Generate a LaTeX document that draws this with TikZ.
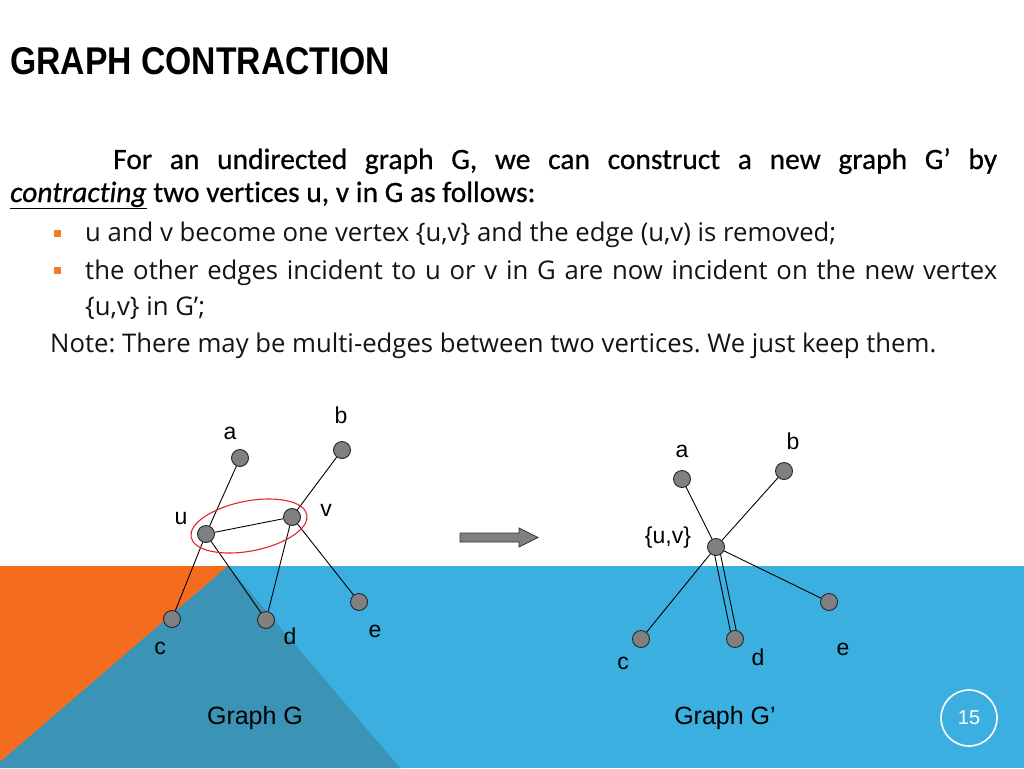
\documentclass[tikz,border=0pt]{standalone}
\usepackage{fontspec}
\usepackage{graphicx}
\newfontfamily\carl[Ligatures=NoCommon, FakeBold=0.6]{Carlito}
\newfontfamily\osans{Open Sans}
\newfontfamily\arialf{Liberation Sans}
\frenchspacing
\definecolor{lblue}{RGB}{59,175,223}
\definecolor{dblue}{RGB}{59,147,182}
\definecolor{orng}{RGB}{244,108,30}
\definecolor{bulorange}{RGB}{243,122,45}
\definecolor{vgray}{RGB}{128,128,128}
\definecolor{ered}{RGB}{222,40,50}
\pgfdeclarelayer{bg}
\pgfdeclarelayer{edges}
\pgfsetlayers{bg,edges,main}
\tikzset{
  vtx/.style={circle, fill=vgray, draw=black!85, line width=0.9pt, minimum size=17pt, inner sep=0pt},
  lbl/.style={font=\arialf\fontsize{23}{26}\selectfont, inner sep=0pt},
  captxt/.style={font=\arialf\fontsize{25}{28}\selectfont, inner sep=0pt},
  edg/.style={draw=black, line width=0.9pt},
  bodyC/.style={anchor=base west, inner sep=0pt, font=\carl\fontsize{29.5}{33}\selectfont},
  bodyO/.style={anchor=base west, inner sep=0pt, font=\osans\fontsize{25.7}{30}\selectfont\frenchspacing, text=black!92},
  bul/.style={fill=bulorange, minimum size=7pt, inner sep=0pt},
}
\begin{document}
\begin{tikzpicture}[x=1pt,y=-1pt]
\useasboundingbox (0,0) rectangle (1024,768);
\begin{pgfonlayer}{bg}
  \fill[white] (0,0) rectangle (1024,768);
  \fill[lblue] (0,566) rectangle (1024,768);
  \fill[orng] (0,566) -- (228,566) -- (0,762) -- cycle;
  \fill[dblue] (228,566) -- (400,768) -- (0,768) -- (0,762) -- cycle;
\end{pgfonlayer}

% title
\node[anchor=south west, inner sep=0pt] (title) at (10,75) {\resizebox{380pt}{27pt}{\arialf\bfseries GRAPH CONTRACTION}};

% body text
\node[bodyC] (l1) at (113,169) {\makebox[884pt][s]{For an undirected graph G, we can construct a new graph G’ by}};
\node[bodyC] (l2) at (10,202) {\underline{\textit{contracting}} two vertices u, v in G as follows:};
\node[bul] (b1) at (57,233) {};
\node[bodyO] (l3) at (85,241) {u and v become one vertex \{u,v\} and the edge (u,v) is removed;};
\node[bul] (b2) at (57,270) {};
\node[bodyO] (l4) at (85,279) {\makebox[912pt][s]{the other edges incident to u or v in G are now incident on the new vertex}};
\node[bodyO] (l5) at (85,315) {\{u,v\} in G’;};
\node[bodyO] (l6) at (50,352) {Note: There may be multi-edges between two vertices. We just keep them.};

% graph G
\node[vtx] (a) at (240,458) {};
\node[vtx] (b) at (342,450) {};
\node[vtx] (u) at (206,534) {};
\node[vtx] (v) at (292,517) {};
\node[vtx] (c) at (172,619) {};
\node[vtx] (d) at (266,620) {};
\node[vtx] (e) at (359,602) {};
\node[lbl] (la) at (230,433) {a};
\node[lbl] (lb) at (341,415) {b};
\node[lbl] (lu) at (181,519) {u};
\node[lbl] (lv) at (326,510) {v};
\node[lbl] (lc) at (160,648) {c};
\node[lbl] (ld) at (290,636) {d};
\node[lbl] (le) at (375,631) {e};
\begin{pgfonlayer}{edges}
  \draw[edg] (a) -- (u);
  \draw[edg] (b) -- (v);
  \draw[edg] (u) -- (v);
  \draw[edg] (u) -- (c);
  \draw[edg] (u) -- (d);
  \draw[edg] (v) -- (d);
  \draw[edg] (v) -- (e);
\end{pgfonlayer}
\draw[ered, line width=1.1pt, rotate around={11:(249,526)}] (249,526) ellipse [x radius=59, y radius=25];
\node[captxt] (capG) at (255,718) {Graph G};

% arrow
\filldraw[fill=vgray, draw=black!80, line width=0.8pt]
  (460,533) -- (519,533) -- (519,528) -- (538,537.5) -- (519,547) -- (519,542) -- (460,542) -- cycle;

% graph G'
\node[vtx] (a2) at (682,479) {};
\node[vtx] (b2v) at (784,471) {};
\node[vtx] (uv) at (716,547) {};
\node[vtx] (c2) at (641,639) {};
\node[vtx] (d2) at (735,639) {};
\node[vtx] (e2) at (829,602) {};
\node[lbl] (la2) at (682,451) {a};
\node[lbl] (lb2) at (793,441) {b};
\node[lbl] (luv) at (668,538) {\{u,v\}};
\node[lbl] (lc2) at (623,663) {c};
\node[lbl] (ld2) at (758,657) {d};
\node[lbl] (le2) at (843,649) {e};
\begin{pgfonlayer}{edges}
  \draw[edg] (a2) -- (uv);
  \draw[edg] (b2v) -- (uv);
  \draw[edg] (c2) -- (uv);
  \draw[edg] (e2) -- (uv);
  \draw[edg] ([xshift=-3pt]uv.center) -- ([xshift=-3pt]d2.center);
  \draw[edg] ([xshift=3pt]uv.center) -- ([xshift=3pt]d2.center);
\end{pgfonlayer}
\node[captxt] (capG2) at (725,718) {Graph G’};

% page number
\node[circle, draw=white, line width=1.6pt, minimum size=56pt, inner sep=0pt, text=white, font=\arialf\fontsize{20}{23}\selectfont] (pg) at (969,718) {15};
\end{tikzpicture}
\end{document}
